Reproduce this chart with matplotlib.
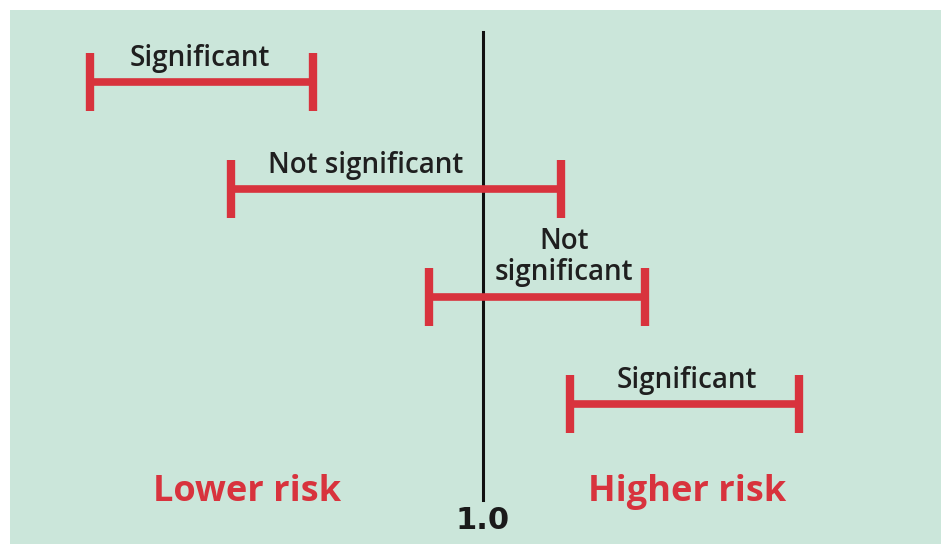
import matplotlib
matplotlib.use("Agg")
import matplotlib.pyplot as plt

# Data (relative-risk scale, reference line at 1.0)
labels = ["Significant", "Not significant", "Not\nsignificant", "Significant"]
lower = [0.214, 0.496, 0.892, 1.174]
upper = [0.660, 1.156, 1.324, 1.632]
label_x = [0.434, 0.766, 1.162, 1.408]
rows = [1, 2, 3, 4]
ref_value = 1.0

BG = "#cbe6da"
RED = "#d8333d"

fig = plt.figure(figsize=(9.41, 5.44), dpi=100, facecolor="white")
ax = fig.add_axes([10 / 941, 0, 931 / 941, 534 / 544])
ax.set_facecolor(BG)
ax.set_xlim(0.054, 1.916)
ax.set_ylim(5.306, 0.329)
for s in ax.spines.values():
    s.set_visible(False)
ax.set_xticks([])
ax.set_yticks([])

# reference line
ax.plot([ref_value, ref_value], [0.53, 4.9], color="#111111", lw=2.2, zorder=1)

cap = 0.27
for lo, hi, r, lab, lx in zip(lower, upper, rows, labels, label_x):
    ax.plot([lo, hi], [r, r], color=RED, lw=5.5, solid_capstyle="butt", zorder=2)
    for v in (lo, hi):
        ax.plot([v, v], [r - cap, r + cap], color=RED, lw=6,
                solid_capstyle="butt", zorder=2)
    lines = lab.split("\n")
    for k, line in enumerate(reversed(lines)):
        ax.text(lx, r - 0.15 - k * 0.29, line, ha="center", va="baseline",
                fontsize=20, fontweight="semibold", family="Open Sans",
                color="#1f1f1f", zorder=3)

ax.text(0.528, 4.82, "Lower risk", ha="center", va="center", fontsize=26,
        fontweight="bold", family="Open Sans", color=RED)
ax.text(1.408, 4.82, "Higher risk", ha="center", va="center", fontsize=26,
        fontweight="bold", family="Open Sans", color=RED)
ax.text(ref_value, 5.09, "1.0", ha="center", va="center", fontsize=22,
        fontweight="bold", family="DejaVu Sans", color="#1a1a1a")

fig.savefig("out.png", dpi=100, facecolor="white")
